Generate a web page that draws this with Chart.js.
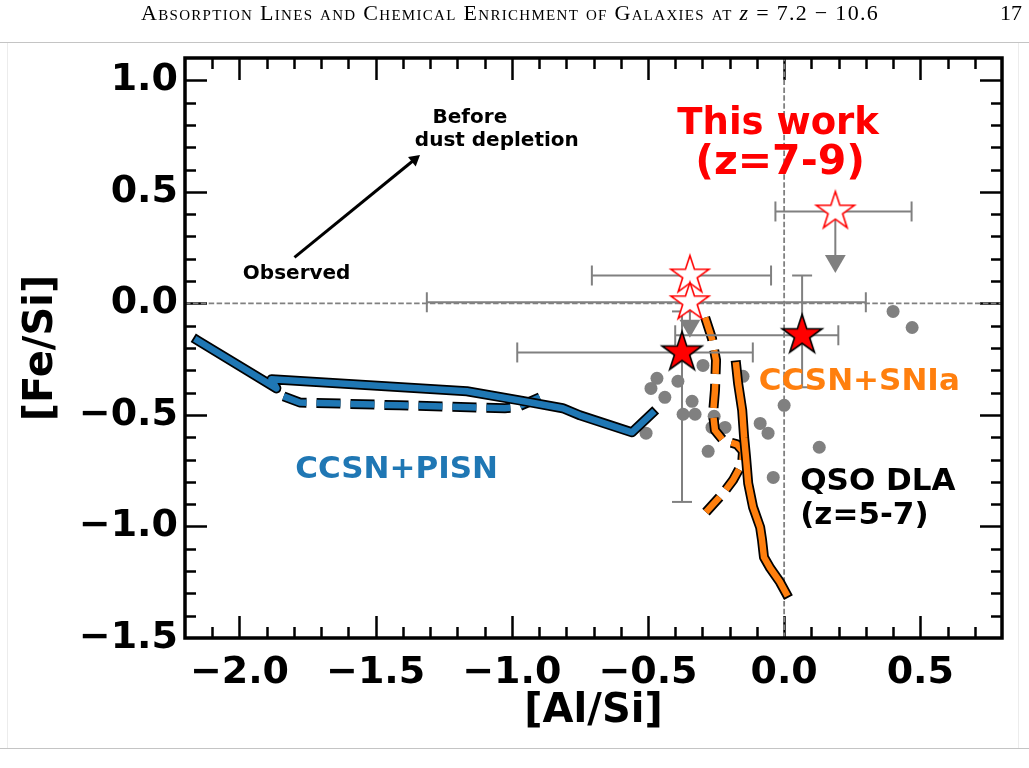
<!DOCTYPE html>
<html>
<head>
<meta charset="utf-8">
<script src="https://cdn.jsdelivr.net/npm/chart.js@4.4.0/dist/chart.umd.min.js"></script>
<style>
html,body{margin:0;padding:0;background:#fff;width:1029px;height:768px;overflow:hidden;}
#wrap{position:absolute;left:0;top:0;width:1029px;height:768px;}
#hdr{position:absolute;top:0px;left:141px;font-family:"Liberation Serif",serif;font-size:22px;letter-spacing:1.3px;white-space:nowrap;color:#000;}
#hdr .sc{font-variant:small-caps;}
#pg{position:absolute;top:0px;left:1000px;font-family:"Liberation Serif",serif;font-size:22px;color:#000;}
.rule{position:absolute;left:0;width:1029px;height:1px;background:#c4c4c4;}
.vrule{position:absolute;top:43px;height:705px;width:1px;background:#ececec;}
</style>
</head>
<body>
<div id="wrap"><canvas id="c" width="1029" height="768"></canvas></div>
<div id="hdr"><span class="sc">Absorption Lines and Chemical Enrichment of Galaxies at</span> <i>z</i> = 7.2 − 10.6</div>
<div id="pg">17</div>
<div class="rule" style="top:42px"></div>
<div class="rule" style="top:748px"></div>
<div class="vrule" style="left:7px"></div>
<div class="vrule" style="left:1018px"></div>
<script>
// ---------- axes ----------
const xMin = -2.2, xMax = 0.8, yMin = -1.5, yMax = 1.1;
const xTicks = [-2.0, -1.5, -1.0, -0.5, 0.0, 0.5];
const xTickLabels = ['\u22122.0', '\u22121.5', '\u22121.0', '\u22120.5', '0.0', '0.5'];
const yTicks = [-1.5, -1.0, -0.5, 0.0, 0.5, 1.0];
const yTickLabels = ['\u22121.5', '\u22121.0', '\u22120.5', '0.0', '0.5', '1.0'];

// ---------- QSO DLA (z=5-7) ----------
const dlaAlSi = [-0.298, -0.467, -0.390, -0.489, -0.438, -0.338, -0.151, -0.371, -0.327, -0.257, -0.217, -0.265, -0.088, -0.059, 0.000, 0.129, -0.507, -0.279, -0.040, 0.400, 0.470];
const dlaFeSi = [-0.278, -0.336, -0.349, -0.381, -0.421, -0.439, -0.327, -0.497, -0.497, -0.506, -0.556, -0.556, -0.538, -0.582, -0.457, -0.645, -0.582, -0.663, -0.780, -0.036, -0.108];

// ---------- This work: detections ----------
const detAlSi = [-0.375, 0.066];
const detFeSi = [-0.220, -0.143];
const detAlErrLo = [0.605, 0.466];
const detAlErrHi = [0.260, 0.133];
const detFeErrLo = [0.670, 0.233];
const detFeErrHi = [0.184, 0.268];

// ---------- This work: upper limits ----------
const limAlSi = [-0.346, -0.346, 0.188];
const limFeSi = [0.125, 0.005, 0.412];
const limAlErrLo = [0.360, 0.966, 0.220];
const limAlErrHi = [0.298, 0.646, 0.280];
const limArrowTo = [-0.100, null, 0.190];

// ---------- models ----------
const pisnSolidAl = [-2.154, -1.864, -1.882, -1.165, -0.971, -0.813, -0.750, -0.559, -0.485];
const pisnSolidFe = [-0.166, -0.381, -0.340, -0.394, -0.435, -0.470, -0.502, -0.578, -0.493];
const pisnDashAl = [-1.838, -1.779, -1.412, -1.026, -0.982, -0.897];
const pisnDashFe = [-0.417, -0.444, -0.457, -0.470, -0.466, -0.421];
const sniaSolidAl = [-0.176, -0.169, -0.154, -0.147, -0.140, -0.132, -0.114, -0.088, -0.081, -0.074, -0.051, -0.015, 0.007];
const sniaSolidFe = [-0.278, -0.358, -0.479, -0.600, -0.690, -0.806, -0.914, -1.004, -1.062, -1.138, -1.187, -1.250, -1.299];
const sniaDashAl = [-0.290, -0.265, -0.250, -0.254, -0.261, -0.254, -0.224, -0.173, -0.151, -0.154, -0.188, -0.224, -0.287];
const sniaDashFe = [-0.063, -0.157, -0.255, -0.390, -0.493, -0.569, -0.614, -0.632, -0.663, -0.717, -0.793, -0.851, -0.936];

// ---------- annotations ----------
const arrowTail = [-1.798, 0.206];
const arrowHead = [-1.357, 0.645];
const noteText = ['This work', '(z=7-9)', 'CCSN+SNIa', 'CCSN+PISN', 'QSO DLA', '(z=5-7)', 'Before', 'dust depletion', 'Observed'];
const noteX = [-0.022, -0.015, 0.276, -1.423, 0.059, 0.059, -1.154, -1.055, -1.790];
const noteY = [0.802, 0.627, -0.354, -0.748, -0.802, -0.954, 0.833, 0.730, 0.134];

// ---------- styles ----------
const GRAY = '#808080', BLUE = '#1f77b4', ORANGE = '#ff7f0e', RED = '#ff0000';
const FONT = 'DejaVu Sans';
const noteStyle = [
  {color: RED, size: 37, align: 'center'},
  {color: RED, size: 41, align: 'center'},
  {color: ORANGE, size: 31, align: 'center'},
  {color: BLUE, size: 31, align: 'center'},
  {color: '#000', size: 31, align: 'left'},
  {color: '#000', size: 31, align: 'left'},
  {color: '#000', size: 20, align: 'center'},
  {color: '#000', size: 20, align: 'center'},
  {color: '#000', size: 20, align: 'center'}
];

function starCanvas(R, fill, stroke, lw) {
  const pad = Math.ceil(lw) + 2;
  let size = Math.ceil(2 * R + 2 * pad);
  if (size % 2) size++;
  const c = document.createElement('canvas');
  c.width = size; c.height = size;
  const g = c.getContext('2d');
  const cx = size / 2, cy = size / 2;
  g.beginPath();
  for (let i = 0; i < 10; i++) {
    const r = (i % 2 === 0) ? R : R * 0.381966;
    const a = -Math.PI / 2 + i * Math.PI / 5;
    const px = cx + r * Math.cos(a), py = cy + r * Math.sin(a);
    if (i === 0) g.moveTo(px, py); else g.lineTo(px, py);
  }
  g.closePath();
  g.fillStyle = fill; g.fill();
  g.lineWidth = lw; g.strokeStyle = stroke; g.lineJoin = 'miter'; g.stroke();
  return c;
}
const starFilled = starCanvas(21, RED, '#000', 1.6);
const starOpen = starCanvas(20, '#fff', RED, 1.6);

const pts = (xs, ys) => xs.map((x, i) => ({x: x, y: ys[i]}));

function curve(xs, ys, color, width, dash, order, solid) {
  return {
    data: pts(xs, ys), showLine: true, borderColor: color, borderWidth: width,
    borderDash: dash, borderCapStyle: solid ? 'square' : 'butt', borderJoinStyle: 'round',
    pointRadius: 0, tension: 0, fill: false, order: order
  };
}

// error bar segments
const ebSeg = [];
const ebCapsH = [];
const ebCapsV = [];
detAlSi.forEach((x, i) => {
  const y = detFeSi[i];
  ebSeg.push({x: x - detAlErrLo[i], y: y}, {x: x + detAlErrHi[i], y: y}, {x: x, y: null});
  ebSeg.push({x: x, y: y - detFeErrLo[i]}, {x: x, y: y + detFeErrHi[i]}, {x: x, y: null});
  ebCapsH.push({x: x - detAlErrLo[i], y: y}, {x: x + detAlErrHi[i], y: y});
  ebCapsV.push({x: x, y: y - detFeErrLo[i]}, {x: x, y: y + detFeErrHi[i]});
});
limAlSi.forEach((x, i) => {
  const y = limFeSi[i];
  ebSeg.push({x: x - limAlErrLo[i], y: y}, {x: x + limAlErrHi[i], y: y}, {x: x, y: null});
  ebCapsH.push({x: x - limAlErrLo[i], y: y}, {x: x + limAlErrHi[i], y: y});
});
const ulSeg = [], ulHeads = [];
limAlSi.forEach((x, i) => {
  if (limArrowTo[i] === null) return;
  ulSeg.push({x: x, y: limFeSi[i]}, {x: x, y: limArrowTo[i]}, {x: x, y: null});
  ulHeads.push({x: x, y: limArrowTo[i]});
});

const datasets = [
  {data: pts(detAlSi, detFeSi), pointStyle: starFilled, pointRadius: 20, order: 0},
  {data: pts(limAlSi, limFeSi), pointStyle: starOpen, pointRadius: 20, order: 1},
  {data: ulHeads, pointStyle: 'triangle', pointRotation: 180, pointRadius: 12, backgroundColor: GRAY, borderColor: GRAY, borderWidth: 0, order: 2},
  {data: ulSeg, showLine: true, spanGaps: false, borderColor: GRAY, borderWidth: 2, pointRadius: 0, order: 3},
  {data: ebCapsH, pointStyle: 'line', pointRotation: 90, pointRadius: 10, borderColor: GRAY, pointBorderWidth: 2, order: 4},
  {data: ebCapsV, pointStyle: 'line', pointRotation: 0, pointRadius: 10, borderColor: GRAY, pointBorderWidth: 2, order: 4},
  {data: ebSeg, showLine: true, spanGaps: false, borderColor: GRAY, borderWidth: 2, pointRadius: 0, order: 5},
  curve(sniaSolidAl, sniaSolidFe, ORANGE, 6.5, [], 6, true),
  curve(sniaSolidAl, sniaSolidFe, '#000', 10, [], 7, true),
  curve(sniaDashAl, sniaDashFe, ORANGE, 6.5, [24, 10], 8, false),
  curve(sniaDashAl, sniaDashFe, '#000', 10, [24, 10], 9, false),
  curve(pisnSolidAl, pisnSolidFe, BLUE, 6.5, [], 10, true),
  curve(pisnSolidAl, pisnSolidFe, '#000', 10, [], 11, true),
  curve(pisnDashAl, pisnDashFe, BLUE, 6.5, [24, 10], 12, false),
  curve(pisnDashAl, pisnDashFe, '#000', 10, [24, 10], 13, false),
  {data: pts(dlaAlSi, dlaFeSi), pointStyle: 'circle', pointRadius: 6.5, backgroundColor: GRAY, borderWidth: 0, order: 14},
  {data: [{x: arrowHead[0], y: arrowHead[1]}], pointStyle: 'triangle', pointRadius: 7, backgroundColor: '#000', borderWidth: 0,
   pointRotation: (c) => {
     const xs = c.chart.scales.x, ys = c.chart.scales.y;
     const dx = xs.getPixelForValue(arrowHead[0]) - xs.getPixelForValue(arrowTail[0]);
     const dy = ys.getPixelForValue(arrowHead[1]) - ys.getPixelForValue(arrowTail[1]);
     return Math.atan2(dx, -dy) * 180 / Math.PI;
   }, order: 15},
  {data: [{x: arrowTail[0], y: arrowTail[1]}, {x: arrowHead[0], y: arrowHead[1]}], showLine: true, borderColor: '#000', borderWidth: 3, pointRadius: 0, order: 16},
  {data: [{x: xMin, y: 0}, {x: xMax, y: 0}], showLine: true, borderColor: GRAY, borderWidth: 1.8, borderDash: [5.5, 2.4], pointRadius: 0, order: 17},
  {data: [{x: 0, y: yMin}, {x: 0, y: yMax}], showLine: true, borderColor: GRAY, borderWidth: 1.8, borderDash: [5.5, 2.4], pointRadius: 0, order: 17}
];

const axesPlugin = {
  id: 'axesPlugin',
  beforeDatasetsDraw(chart) {
    const {ctx, chartArea: a, scales: {x, y}} = chart;
    ctx.save();
    ctx.strokeStyle = '#000';
    ctx.lineWidth = 2.5;
    ctx.lineCap = 'butt';
    const isMajor = (v, arr) => arr.some(t => Math.abs(t - v) < 1e-6);
    ctx.beginPath();
    for (let k = Math.round(xMin * 10); k <= Math.round(xMax * 10); k++) {
      const v = k / 10;
      const px = Math.round(x.getPixelForValue(v)) + 0.5;
      if (px <= a.left + 2 || px >= a.right - 2) continue;
      const L = isMajor(v, xTicks) ? 22 : 11;
      ctx.moveTo(px, a.bottom); ctx.lineTo(px, a.bottom - L);
      ctx.moveTo(px, a.top); ctx.lineTo(px, a.top + L);
    }
    for (let k = Math.round(yMin * 10); k <= Math.round(yMax * 10); k++) {
      const v = k / 10;
      const py = Math.round(y.getPixelForValue(v)) + 0.5;
      if (py <= a.top + 2 || py >= a.bottom - 2) continue;
      const L = isMajor(v, yTicks) ? 22 : 11;
      ctx.moveTo(a.left, py); ctx.lineTo(a.left + L, py);
      ctx.moveTo(a.right, py); ctx.lineTo(a.right - L, py);
    }
    ctx.stroke();
    ctx.restore();
  },
  afterDatasetsDraw(chart) {
    const {ctx, chartArea: a, scales: {x, y}} = chart;
    ctx.save();
    ctx.strokeStyle = '#000';
    ctx.lineWidth = 3.5;
    ctx.strokeRect(a.left, a.top, a.right - a.left, a.bottom - a.top);
    ctx.textBaseline = 'middle';
    noteText.forEach((t, i) => {
      const st = noteStyle[i];
      ctx.font = 'bold ' + st.size + 'px "' + FONT + '"';
      ctx.fillStyle = st.color;
      ctx.textAlign = st.align;
      ctx.fillText(t, x.getPixelForValue(noteX[i]), y.getPixelForValue(noteY[i]));
    });
    ctx.restore();
  }
};

new Chart(document.getElementById('c'), {
  type: 'scatter',
  data: {datasets: datasets},
  options: {
    responsive: false,
    devicePixelRatio: 1,
    animation: false,
    events: [],
    layout: {padding: {left: 0, right: 27, top: 58, bottom: 0}},
    plugins: {legend: {display: false}, tooltip: {enabled: false}},
    scales: {
      x: {
        type: 'linear', min: xMin, max: xMax,
        afterBuildTicks: s => { s.ticks = xTicks.map(v => ({value: v})); },
        afterFit: s => { s.height = 130; },
        grid: {display: false, drawTicks: false},
        border: {display: false},
        ticks: {padding: 12, color: '#000', maxRotation: 0, autoSkip: false,
          font: {family: FONT, size: 38, weight: 'bold'},
          callback: v => xTickLabels[xTicks.indexOf(v)]},
        title: {display: true, text: '[Al/Si]', color: '#000',
          font: {family: FONT, size: 40, weight: 'bold'}, padding: {top: 0, bottom: 32}}
      },
      y: {
        type: 'linear', min: yMin, max: yMax,
        afterBuildTicks: s => { s.ticks = yTicks.map(v => ({value: v})); },
        afterFit: s => { s.width = 185; },
        grid: {display: false, drawTicks: false},
        border: {display: false},
        ticks: {padding: 7, color: '#000', autoSkip: false,
          font: {family: FONT, size: 38, weight: 'bold'},
          callback: v => yTickLabels[yTicks.indexOf(v)]},
        title: {display: true, text: '[Fe/Si]', color: '#000',
          font: {family: FONT, size: 40, weight: 'bold'}, padding: {top: 18, bottom: 0}}
      }
    }
  },
  plugins: [axesPlugin]
});
</script>
</body>
</html>
